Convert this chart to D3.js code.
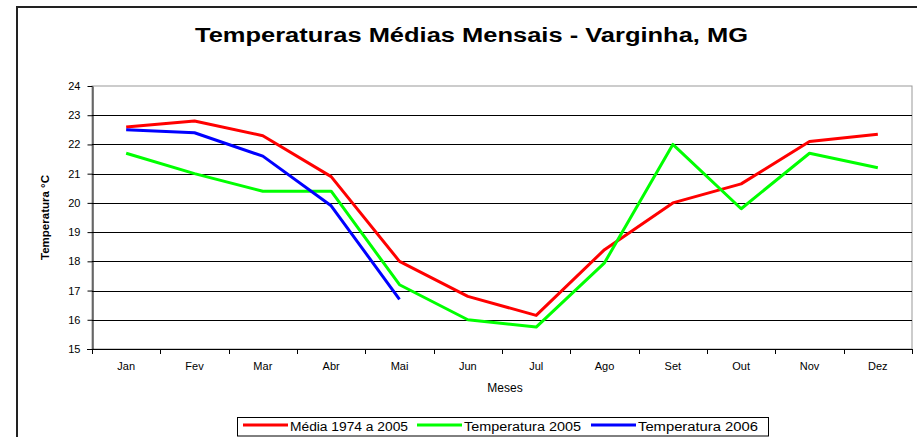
<!DOCTYPE html>
<html><head><meta charset="utf-8">
<script src="https://cdn.jsdelivr.net/npm/d3@7"></script>
<style>html,body{margin:0;padding:0;background:#fff;}svg{display:block;}</style>
</head><body>
<script>
const months = ["Jan","Fev","Mar","Abr","Mai","Jun","Jul","Ago","Set","Out","Nov","Dez"];
const media19742005 = [22.6,22.8,22.3,20.9,18.0,16.8,16.15,18.4,20.0,20.65,22.1,22.35];
const temp2005 = [21.7,21.0,20.4,20.4,17.2,16.0,15.75,17.95,22.0,19.8,21.7,21.2];
const temp2006 = [22.5,22.4,21.6,19.9,16.7];
const yTicks = [15,16,17,18,19,20,21,22,23,24];
const seriesNames = ["Média 1974 a 2005","Temperatura 2005","Temperatura 2006"];
const seriesColors = ["#ff0000","#00ff00","#0000ff"];

const W = 917, H = 437;
const svg = d3.select("body").append("svg").attr("width",W).attr("height",H);
const font = "Liberation Sans, Arial, sans-serif";

// outer chart border
svg.append("rect").attr("x",17).attr("y",7).attr("width",W+20).attr("height",H+20)
  .attr("fill","none").attr("stroke","#222").attr("stroke-width",2);

const L = 92, R = 912, T = 86, B = 349;
const x = d3.scaleBand().domain(months).range([L,R]);
const y = d3.scaleLinear().domain([15,24]).range([B,T]);

// plot border (grey)
svg.append("rect").attr("x",L).attr("y",T).attr("width",R-L).attr("height",B-T)
  .attr("fill","none").attr("stroke","#999").attr("stroke-width",1);

// gridlines
svg.append("g").selectAll("line").data(yTicks.filter(v=>v>15 && v<24)).join("line")
  .attr("x1",L).attr("x2",R).attr("y1",d=>Math.round(y(d))+0.5).attr("y2",d=>Math.round(y(d))+0.5)
  .attr("stroke","#000").attr("stroke-width",1);

// y axis
const ya = svg.append("g").attr("transform",`translate(${L+0.5},0)`)
  .call(d3.axisLeft(y).tickValues(yTicks).tickSize(5).tickSizeOuter(0).tickPadding(7));
ya.select(".domain").attr("stroke","#000");
ya.selectAll("text").attr("font-family",font).attr("font-size",11).attr("fill","#000");

// x axis
const xa = svg.append("g").attr("transform",`translate(0,${B+0.5})`)
  .call(d3.axisBottom(x).tickSize(0).tickPadding(13));
xa.select(".domain").attr("stroke","#000").attr("d",`M${L-5},0H${R}`);
xa.selectAll("text").attr("font-family",font).attr("font-size",11).attr("fill","#000");
// x ticks at band boundaries
const bounds = months.map(m=>x(m)).concat([R]);
svg.append("g").selectAll("line").data(bounds).join("line")
  .attr("x1",d=>Math.round(d)+0.5).attr("x2",d=>Math.round(d)+0.5)
  .attr("y1",B).attr("y2",B+5).attr("stroke","#000");

// titles
svg.append("text").attr("x",195).attr("y",42)
  .attr("font-family",font).attr("font-weight","bold").attr("font-size",20)
  .attr("textLength",553).attr("lengthAdjust","spacingAndGlyphs")
  .text("Temperaturas Médias Mensais - Varginha, MG");
svg.append("text").attr("transform",`translate(49,${(T+B)/2}) rotate(-90)`)
  .attr("text-anchor","middle").attr("font-family",font).attr("font-weight","bold")
  .attr("font-size",11.5).text("Temperatura °C");
svg.append("text").attr("x",(L+R)/2+3).attr("y",392).attr("text-anchor","middle")
  .attr("font-family",font).attr("font-size",12).text("Meses");

// lines
const line = d3.line().x((d,i)=>x(months[i])+x.bandwidth()/2).y(d=>y(d));
[media19742005,temp2005,temp2006].forEach((s,i)=>{
  svg.append("path").datum(s).attr("d",line).attr("fill","none")
    .attr("stroke",seriesColors[i]).attr("stroke-width",3).attr("stroke-linejoin","round");
});

// legend
svg.append("rect").attr("x",237.5).attr("y",417.5).attr("width",531).attr("height",18.5)
  .attr("fill","#fff").attr("stroke","#000").attr("stroke-width",1);
const legX = [243,417,591];
const legTextW = [118,117,120];
const lg = svg.append("g").selectAll("g").data(seriesNames).join("g")
  .attr("transform",(d,i)=>`translate(${legX[i]},425)`);
lg.append("line").attr("x1",0).attr("x2",45).attr("stroke",(d,i)=>seriesColors[i]).attr("stroke-width",3);
lg.append("text").attr("x",47).attr("y",6).attr("font-family",font).attr("font-size",12)
  .attr("textLength",(d,i)=>legTextW[i]).attr("lengthAdjust","spacingAndGlyphs").text(d=>d);
</script>
</body></html>
